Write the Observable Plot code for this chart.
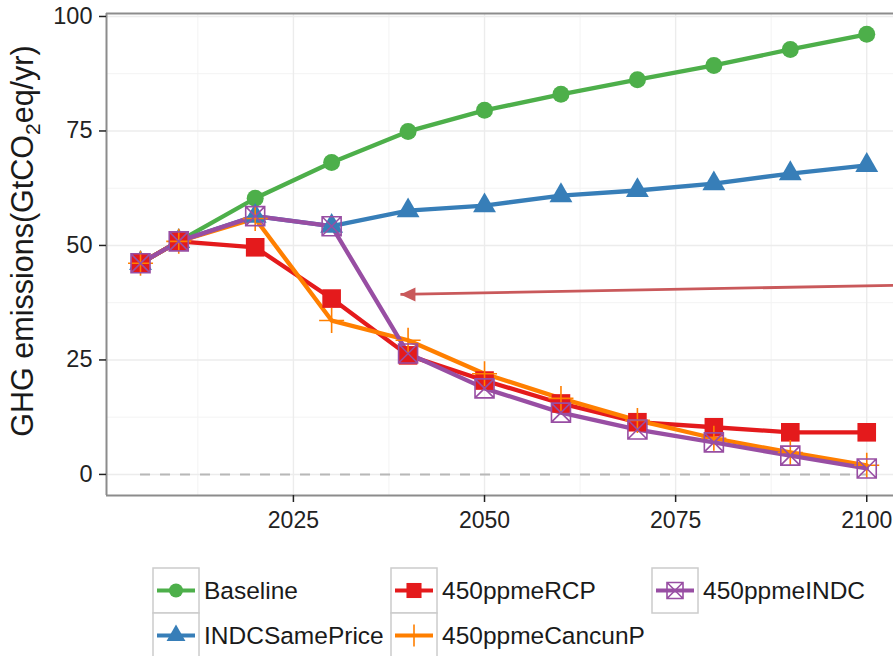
<!DOCTYPE html>
<html><head><meta charset="utf-8">
<script src="https://cdn.jsdelivr.net/npm/d3@7"></script>
<script src="https://cdn.jsdelivr.net/npm/@observablehq/plot@0.6"></script>
<style>
body{margin:0;background:#fff;font-family:"Liberation Sans",Arial,sans-serif}
#chart svg,#legend svg{display:block}
</style>
</head><body><div id="chart"></div><div id="legend"></div><script>
// ---- data ----
const years = [2005,2010,2020,2030,2040,2050,2060,2070,2080,2090,2100];
const baseline       = [46.1,50.9,60.3,68.1,74.9,79.5,83.0,86.2,89.3,92.8,96.1];
const indcSamePrice  = [46.1,50.9,56.4,54.2,57.6,58.7,60.9,62.0,63.5,65.7,67.5];
const ppme450RCP     = [46.1,50.9,49.6,38.4,26.0,20.5,15.5,11.4,10.3,9.2,9.2];
const ppme450CancunP = [46.1,50.9,55.9,33.6,29.3,22.0,16.6,11.8,7.9,4.8,2.0];
const ppme450INDC    = [46.1,50.9,56.4,54.2,26.4,18.8,13.5,9.8,7.0,4.1,1.3];
const seriesNames  = ["Baseline","INDCSamePrice","450ppmeRCP","450ppmeCancunP","450ppmeINDC"];
const seriesValues = [baseline,indcSamePrice,ppme450RCP,ppme450CancunP,ppme450INDC];
const seriesColors = ["#4daf4a","#377eb8","#e41a1c","#ff7f00","#984ea3"];
const xTicks = [2025,2050,2075,2100];
const yTicks = [0,25,50,75,100];
const xMinorTicks = [2012.5,2037.5,2062.5,2087.5];
const yMinorTicks = [12.5,37.5,62.5,87.5];
const xDomain = [2000.55, 2103.5];
const yDomain = [-4.6, 100.65];
const refLine = [{y:0, x1:2005, x2:2100}];
const arrowAnno = [{x1:2103.5, y1:41.3, x2:2039.0, y2:39.3}];
const yTitle = ["GHG emissions(GtCO","2","eq/yr)"];

// ---- symbols ----
const plusSym = {draw(c,size){const r=Math.sqrt(size/Math.PI);c.moveTo(-r,0);c.lineTo(r,0);c.moveTo(0,-r);c.lineTo(0,r);}};
const squareXSym = {draw(c,size){const r=Math.sqrt(size/Math.PI);c.moveTo(-r,-r);c.lineTo(r,-r);c.lineTo(r,r);c.lineTo(-r,r);c.closePath();c.moveTo(-r,-r);c.lineTo(r,r);c.moveTo(r,-r);c.lineTo(-r,r);}};
const headSym = {draw(c,size){c.moveTo(0,0);c.lineTo(15,-7);c.lineTo(15,7);c.closePath();}};
const seriesSymbols = ["circle","triangle","square",plusSym,squareXSym];
const dotR = [8.5,8.5,10.5,12.5,9.5];
const filled = [true,true,true,false,false];

const rows = seriesNames.flatMap((s,i)=>years.map((year,j)=>({series:s, year, value:seriesValues[i][j]})));

const font = "Liberation Sans, Arial, sans-serif";
const chart = Plot.plot({
  width: 893, height: 550,
  marginLeft: 106, marginRight: 0, marginTop: 13, marginBottom: 55,
  style: {fontFamily: font, fontSize: "23px", color: "#222", background: "#fff"},
  x: {domain: xDomain},
  y: {domain: yDomain},
  color: {domain: seriesNames, range: seriesColors},
  marks: [
    Plot.ruleX(xMinorTicks, {stroke: "#f3f3f3", strokeWidth: 1}),
    Plot.ruleY(yMinorTicks, {stroke: "#f3f3f3", strokeWidth: 1}),
    Plot.ruleX(xTicks, {stroke: "#ececec", strokeWidth: 1.4}),
    Plot.ruleY(yTicks, {stroke: "#ececec", strokeWidth: 1.4}),
    Plot.ruleY(refLine, {y: "y", x1: "x1", x2: "x2", stroke: "#b8b8b8", strokeWidth: 2, strokeDasharray: "10,10"}),
    Plot.line(rows, {x: "year", y: "value", z: "series", stroke: "series", strokeWidth: 4.3, strokeLinejoin: "round"}),
    ...seriesNames.map((s,i)=>Plot.dot(rows.filter(d=>d.series===s), {
      x: "year", y: "value", symbol: ()=>seriesSymbols[i], r: dotR[i],
      fill: filled[i] ? seriesColors[i] : "none",
      stroke: filled[i] ? "none" : seriesColors[i], strokeWidth: 1.6
    })),
    Plot.link(arrowAnno, {x1: "x1", y1: "y1", x2: "x2", y2: "y2", stroke: "#c9595b", strokeWidth: 2.8}),
    Plot.dot(arrowAnno, {x: "x2", y: "y2", symbol: ()=>headSym, r: 5, fill: "#c9595b", stroke: "none"}),
    Plot.ruleX([xDomain[0]], {stroke: "#8c8c8c", strokeWidth: 2}),
    Plot.ruleY([yDomain[0], yDomain[1]], {stroke: "#8c8c8c", strokeWidth: 2}),
    Plot.axisY({ticks: yTicks, tickSize: 7, tickPadding: 7, fontSize: 23.5, color: "#222", strokeWidth: 1.5, label: null}),
    Plot.axisX({ticks: xTicks, tickSize: 7, tickPadding: 9, fontSize: 23, color: "#222", strokeWidth: 1.5, label: null, tickFormat: d=>String(d)})
  ]
});
// y-axis title with subscript
const t = d3.select(chart).append("text")
  .attr("transform","translate(33,241) rotate(-90)")
  .attr("text-anchor","middle").attr("font-size",30.5).attr("fill","#1a1a1a")
  .attr("font-family",font);
t.append("tspan").text(yTitle[0]);
t.append("tspan").attr("font-size",21).attr("dy",7).text(yTitle[1]);
t.append("tspan").attr("dy",-7).text(yTitle[2]);
document.getElementById("chart").append(chart);

// ---- legend ----
const legendCols = [153, 391, 652];
const legendRows = [18, 63];
const legendOrder = [[0,0],[1,0],[0,1],[1,1],[0,2]]; // [row,col] per series
const legendR = [7,7,8.5,11,8];
const lg = d3.select("#legend").append("svg").attr("width",893).attr("height",106);
seriesNames.forEach((s,i)=>{
  const [r,c] = legendOrder[i];
  const x = legendCols[c], y = legendRows[r];
  const g = lg.append("g").attr("transform",`translate(${x},${y})`);
  g.append("rect").attr("width",46).attr("height",45).attr("fill","#fff").attr("stroke","#cccccc").attr("stroke-width",1.5);
  g.append("line").attr("x1",4).attr("x2",42).attr("y1",22.5).attr("y2",22.5).attr("stroke",seriesColors[i]).attr("stroke-width",4);
  const sym = typeof seriesSymbols[i]==="string" ? {circle:d3.symbolCircle,triangle:d3.symbolTriangle,square:d3.symbolSquare}[seriesSymbols[i]] : seriesSymbols[i];
  g.append("path").attr("transform","translate(23,22.5)")
    .attr("d", d3.symbol(sym, Math.PI*legendR[i]*legendR[i])())
    .attr("fill", filled[i]?seriesColors[i]:"none")
    .attr("stroke", filled[i]?"none":seriesColors[i]).attr("stroke-width",1.6);
  g.append("text").attr("x",51).attr("y",22.5).attr("dy","0.36em")
    .attr("font-size",24.5).attr("fill","#1a1a1a").attr("font-family",font).text(s);
});
</script></body></html>
